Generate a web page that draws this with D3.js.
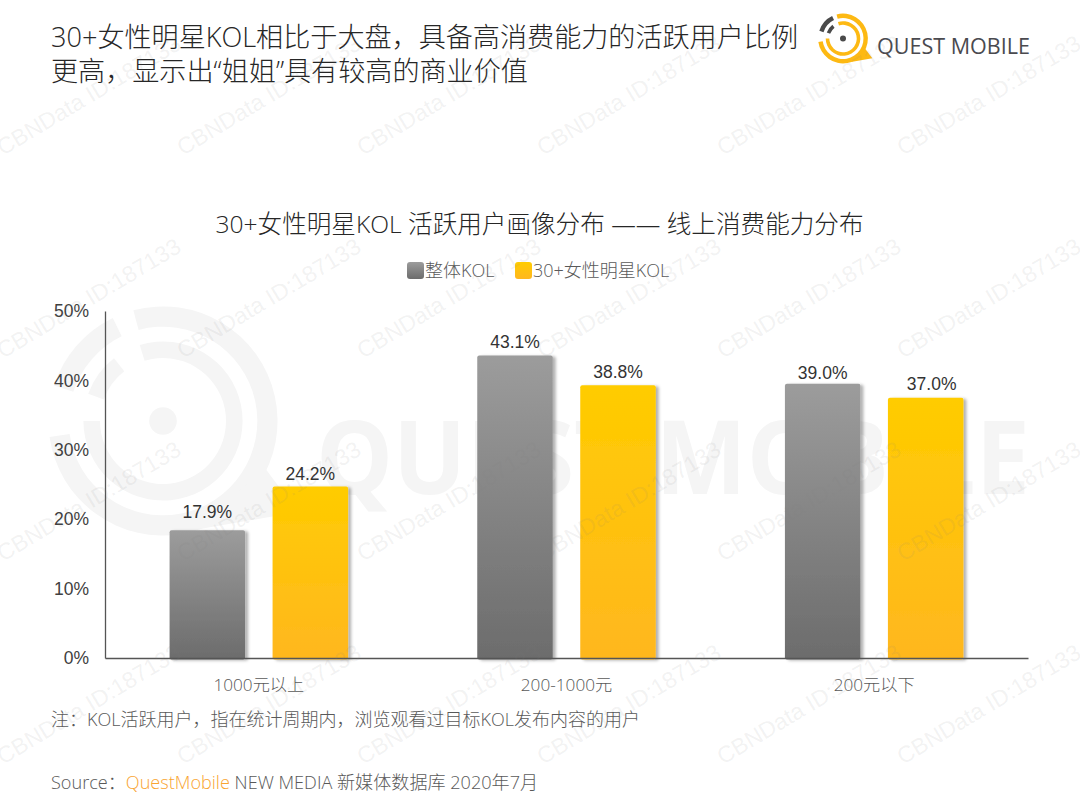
<!DOCTYPE html>
<html>
<head>
<meta charset="utf-8">
<script src="https://cdn.jsdelivr.net/npm/d3@7/dist/d3.min.js"></script>
<style>
body { margin: 0; background: #fff; }
text { font-family: "Open Sans", "Noto Sans CJK SC", sans-serif; }
.cn { font-family: "Open Sans", "Noto Sans CJK SC", sans-serif; font-weight: 300; }
.num { font-family: "Liberation Sans", Arial, sans-serif; }
</style>
</head>
<body>
<div id="chart"></div>
<script>
var categories = ["1000元以上", "200-1000元", "200元以下"];
var seriesNames = ["整体KOL", "30+女性明星KOL"];
var overall = [17.9, 43.1, 39.0];
var femaleStars = [24.2, 38.8, 37.0];
var yTicks = [0, 10, 20, 30, 40, 50];
var titleLines = ["30+女性明星KOL相比于大盘，具备高消费能力的活跃用户比例", "更高，显示出“姐姐”具有较高的商业价值"];
var chartTitle = "30+女性明星KOL 活跃用户画像分布 ——  线上消费能力分布";
var note = "注：KOL活跃用户，指在统计周期内，浏览观看过目标KOL发布内容的用户";

function main(){
    var svg = d3.select("#chart").append("svg")
        .attr("width", 1080)
        .attr("height", 810)
        .style("display", "block");

    var defs = svg.append("defs");
    addGradient(defs, "grayFill", "#9c9c9c", "#6c6c6c");
    addGradient(defs, "goldFill", "#ffcc00", "#ffb71f");

    var shadow = defs.append("filter").attr("id", "barShadow")
        .attr("x", "-20%").attr("y", "-5%").attr("width", "140%").attr("height", "110%");
    shadow.append("feDropShadow")
        .attr("dx", 3).attr("dy", 1).attr("stdDeviation", 1.8)
        .attr("flood-color", "#000").attr("flood-opacity", 0.3);

    // big faint logo behind the plot
    var bigLogo = svg.append("g").attr("transform", "translate(163,421) scale(4.6)");
    drawLogo(bigLogo, "#f5f5f5", "#f5f5f5");
    svg.append("text")
        .attr("x", 316).attr("y", 494)
        .attr("textLength", 714)
        .attr("lengthAdjust", "spacingAndGlyphs")
        .attr("font-size", 102)
        .attr("font-weight", 700)
        .attr("fill", "#f5f5f5")
        .text("QUEST MOBILE");

    // small logo top right
    var logo = svg.append("g").attr("transform", "translate(843,38.5)");
    drawLogo(logo, "#fdb913", "#4a4a4a");
    svg.append("text")
        .attr("x", 877).attr("y", 54)
        .attr("textLength", 153)
        .attr("lengthAdjust", "spacingAndGlyphs")
        .attr("font-size", 21)
        .attr("font-family", "Inter")
        .attr("font-weight", 500)
        .attr("fill", "#4a4a4f")
        .text("QUEST MOBILE");

    svg.selectAll(".headline")
        .data(titleLines)
        .enter().append("text")
        .attr("class", "headline cn")
        .attr("x", 51)
        .attr("y", function(d, i) {return 46.5 + i * 34.5; })
        .attr("font-size", 27.1)
        .attr("fill", "#262626")
        .text(function(d) {return d; });

    svg.append("text")
        .attr("class", "cn")
        .attr("x", 539.5).attr("y", 233)
        .attr("text-anchor", "middle")
        .attr("font-size", 24.6)
        .attr("fill", "#262626")
        .text(chartTitle);

    var xScale = d3.scaleBand().domain(categories).range([105, 1028]);
    var innerScale = d3.scaleBand().domain(seriesNames)
        .range([0, xScale.bandwidth()])
        .paddingInner(0.267)
        .paddingOuter(0.627);
    var yScale = d3.scaleLinear().domain([0, 50]).range([658, 311]);

    // bars sit a little above the axis scale in the original
    var lift = 3.5;

    var fills = ["url(#grayFill)", "url(#goldFill)"];
    var allSeries = [overall, femaleStars];

    // hand placed labels in the original, not all the same gap from the bar
    var labelDy = [[-6, -1, 1], [-1, -1, -2]];
    var labelDx = [[0, 0, 0], [0, 0, 6]];

    allSeries.forEach(function(values, s) {
        var groupX = function(d, i) {return xScale(categories[i]) + innerScale(seriesNames[s]); };

        svg.selectAll(".bar" + s)
            .data(values)
            .enter().append("rect")
            .attr("class", "bar" + s)
            .attr("x", groupX)
            .attr("y", function(d) {return yScale(d) - lift; })
            .attr("width", innerScale.bandwidth())
            .attr("height", function(d) {return yScale(0) + 1.5 - yScale(d) + lift; })
            .attr("rx", 2)
            .attr("fill", fills[s])
            .attr("filter", "url(#barShadow)");

        svg.selectAll(".value" + s)
            .data(values)
            .enter().append("text")
            .attr("class", "value" + s + " num")
            .attr("x", function(d, i) {return groupX(d, i) + innerScale.bandwidth() / 2 + labelDx[s][i]; })
            .attr("y", function(d, i) {return yScale(d) - lift - 6 + labelDy[s][i]; })
            .attr("text-anchor", "middle")
            .attr("font-size", 17.5)
            .attr("fill", "#333")
            .text(function(d) {return d.toFixed(1) + "%"; });
    });

    // axes
    var xAxis = svg.append("g")
        .attr("transform", "translate(0,658)")
        .call(d3.axisBottom(xScale).tickSize(0).tickPadding(21));
    xAxis.select(".domain").attr("stroke", "#555").attr("stroke-width", 1.3);
    xAxis.selectAll("text")
        .attr("class", "cn")
        .attr("font-size", 17.2)
        .attr("fill", "#595959");

    var yAxis = svg.append("g")
        .attr("transform", "translate(105,0)")
        .call(d3.axisLeft(yScale).tickValues(yTicks).tickSize(0).tickPadding(16)
            .tickFormat(function(d) {return d + "%"; }));
    yAxis.select(".domain").attr("stroke", "#555").attr("stroke-width", 1.3);
    yAxis.selectAll("text")
        .attr("class", "num")
        .attr("font-size", 17.5)
        .attr("fill", "#404040");

    // legend
    var legendX = [407, 515];
    var legendFill = ["url(#grayFill)", "url(#goldFill)"];
    seriesNames.forEach(function(name, i) {
        svg.append("rect")
            .attr("x", legendX[i]).attr("y", 262)
            .attr("width", 17).attr("height", 17)
            .attr("rx", 3)
            .attr("fill", legendFill[i]);
        svg.append("text")
            .attr("class", "cn")
            .attr("x", legendX[i] + 18).attr("y", 276.5)
            .attr("font-size", 18)
            .attr("fill", "#595959")
            .text(name);
    });

    // footer
    svg.append("text")
        .attr("class", "cn")
        .attr("x", 51).attr("y", 726)
        .attr("font-size", 18)
        .attr("fill", "#595959")
        .text(note);

    var source = svg.append("text")
        .attr("class", "cn")
        .attr("x", 51).attr("y", 789)
        .attr("font-size", 18.1)
        .attr("fill", "#595959");
    source.append("tspan").text("Source：");
    source.append("tspan").attr("fill", "#f9a431").text("QuestMobile");
    source.append("tspan").text(" NEW MEDIA 新媒体数据库 2020年7月");

    // watermark goes on top of everything
    var rows = d3.range(4), cols = d3.range(6);
    rows.forEach(function(r) {
        cols.forEach(function(c) {
            svg.append("text")
                .attr("class", "num")
                .attr("transform", "translate(" + (3 + c * 180) + "," + (156 + r * 203) + ") rotate(-31)")
                .attr("font-size", 23)
                .attr("fill", "#808080")
                .attr("fill-opacity", 0.11)
                .text("CBNData ID:187133");
        });
    });
}

function addGradient(defs, id, top, bottom) {
    var g = defs.append("linearGradient").attr("id", id)
        .attr("x1", 0).attr("y1", 0).attr("x2", 0).attr("y2", 1);
    g.append("stop").attr("offset", "0%").attr("stop-color", top);
    g.append("stop").attr("offset", "100%").attr("stop-color", bottom);
}

// logo drawn in the small logo's own pixel units, centred on its dot
function drawLogo(g, ringColor, darkColor) {
    var rad = Math.PI / 180;
    var ring = function(r, w, a0, a1) {
        return d3.arc().innerRadius(r - w / 2).outerRadius(r + w / 2)
            .startAngle(a0 * rad).endAngle(a1 * rad)();
    };
    g.append("path").attr("d", ring(22.7, 4.4, -15, 262)).attr("fill", ringColor);
    g.append("path").attr("d", ring(15.5, 3.6, -17, 270)).attr("fill", ringColor);
    g.append("path").attr("d", ring(22.7, 4.4, -72, -26)).attr("fill", darkColor);
    g.append("path").attr("d", ring(15.5, 3.6, -70, -38)).attr("fill", darkColor);
    g.append("path").attr("d", "M22,10L29.3,19.8L8,23.5Z").attr("fill", ringColor);
    g.append("circle").attr("r", 3).attr("fill", darkColor);
}

main()
</script>
</body>
</html>
